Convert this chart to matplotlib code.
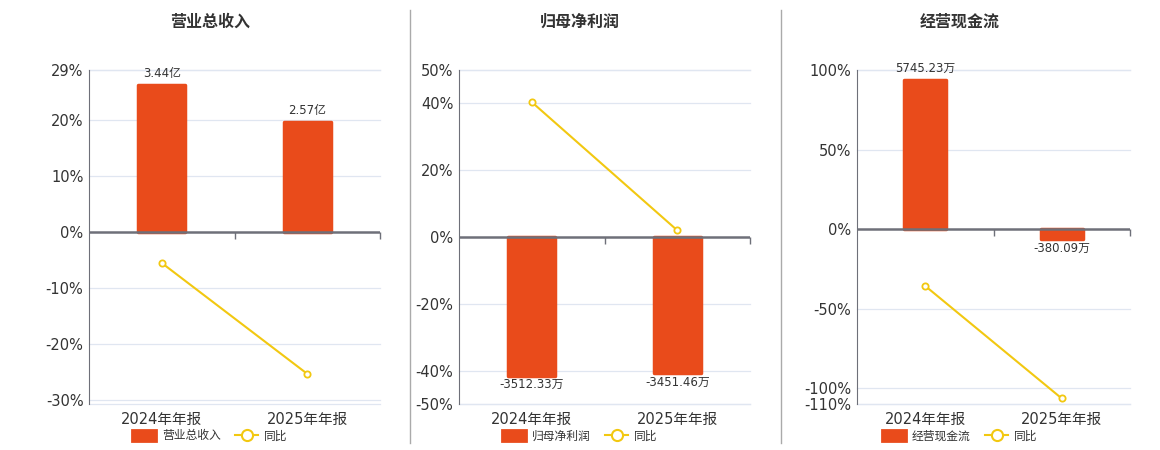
#!/usr/bin/env python3
"""Three small bar+line panels: revenue, net profit, operating cash flow with YoY %."""
import matplotlib
matplotlib.use("Agg")
import matplotlib.pyplot as plt
from matplotlib.lines import Line2D
from matplotlib.patches import Patch

plt.rcParams["font.family"] = ["DejaVu Sans", "Noto Sans CJK SC"]

categories = ["2024年年报", "2025年年报"]

revenue = [3.44, 2.57]            # 亿
revenue_labels = ["3.44亿", "2.57亿"]
revenue_yoy = [-5.55, -25.4]      # %

profit = [-3512.33, -3451.46]     # 万
profit_labels = ["-3512.33万", "-3451.46万"]
profit_yoy = [40.4, 2.0]

cash = [5745.23, -380.09]         # 万
cash_labels = ["5745.23万", "-380.09万"]
cash_yoy = [-35.8, -106.5]

BAR = "#E94B1B"
LINE = "#F2C811"
GRID = "#E0E6F1"
AXIS = "#6E7079"
TXT = "#333333"

W, H = 1160, 450
fig = plt.figure(figsize=(W / 100, H / 100), dpi=100)


def panel(x0, x1, title, tcx, vals, labels, yoy, ylim, ticks, scale, name, bw):
    rect = [x0 / W, 1 - 404 / H, (x1 - x0) / W, (404 - 70) / H]
    ax = fig.add_axes(rect)
    axb = ax.twinx()
    axl = ax.twinx()
    for a in (ax, axb, axl):
        a.set_xlim(-0.5, 1.5)
        for s in a.spines.values():
            s.set_visible(False)
    ax.set_ylim(*ylim)
    axl.set_ylim(*ylim)
    axb.set_ylim(ylim[0] * scale, ylim[1] * scale)
    axb.set_yticks([]); axl.set_yticks([])
    axb.tick_params(left=False, right=False, bottom=False, labelbottom=False)
    axl.tick_params(left=False, right=False, bottom=False, labelbottom=False)

    # grid + left axis
    for g in list(ticks) + [ylim[0], ylim[1]]:
        if g != 0:
            ax.axhline(g, color=GRID, lw=0.9, zorder=0, clip_on=False)
    ax.spines["left"].set_visible(True)
    ax.spines["left"].set_color(AXIS)
    ax.set_yticks(ticks, [f"{t}%" for t in ticks])
    ax.tick_params(axis="y", length=0, pad=4, labelsize=10.5, labelcolor=TXT)
    ax.set_xticks([0, 1], categories)
    ax.tick_params(axis="x", length=0, pad=6, labelsize=10.5, labelcolor=TXT)

    # bars (round joins give the soft corners)
    xs = range(len(vals))
    axb.bar(xs, vals, width=bw, color=BAR, edgecolor=BAR, lw=2.5,
            joinstyle="round", zorder=2)
    for x, v, lab in zip(xs, vals, labels):
        off = 4 if v >= 0 else -2
        axb.annotate(lab, (x, v), xytext=(0, off), textcoords="offset points",
                     ha="center", va="bottom" if v >= 0 else "top",
                     fontsize=8.5, color=TXT)

    # zero axis with ticks at category boundaries
    axl.axhline(0, color=AXIS, lw=1.8, zorder=3)
    axl.plot([0.5, 1.5], [0, 0], ls="", marker=3, ms=5, mew=1, color=AXIS,
             clip_on=False, zorder=3)

    # yoy line
    axl.plot(xs, yoy, color=LINE, lw=1.5, marker="o", ms=4.5, mfc="white",
             mec=LINE, mew=1.3, zorder=4, clip_on=False)

    fig.text(tcx / W, 1 - 22 / H, title, ha="center", va="center",
             fontsize=11.5, fontweight="bold", color=TXT)

    handles = [Patch(facecolor=BAR, edgecolor=BAR, joinstyle="round", lw=2),
               Line2D([], [], color=LINE, lw=1.5, marker="o", ms=8,
                      mfc="white", mec=LINE, mew=1.5)]
    ax.legend(handles, [name, "同比"], loc="center", ncol=2,
              bbox_to_anchor=(tcx / W, 1 - 436 / H),
              bbox_transform=fig.transFigure, frameon=False, fontsize=8.5,
              handlelength=2.0, handleheight=1.0, handletextpad=0.5,
              columnspacing=1.2, labelcolor=TXT)


panel(89, 380, "营业总收入", 210, revenue, revenue_labels, revenue_yoy,
      (-30.8, 29), [29, 20, 10, 0, -10, -20, -30], 3.44 / 26.3, "营业总收入", 0.32)
panel(459, 750, "归母净利润", 580, profit, profit_labels, profit_yoy,
      (-50, 50), [50, 40, 20, 0, -20, -40, -50], 3512.33 / 41.5, "归母净利润", 0.32)
panel(857, 1130, "经营现金流", 960, cash, cash_labels, cash_yoy,
      (-110, 100), [100, 50, 0, -50, -100, -110], 5745.23 / 93.7, "经营现金流", 0.31)

# panel separators
for sx in (410, 781):
    fig.add_artist(Line2D([sx / W, sx / W], [1 - 10 / H, 1 - 443 / H],
                          color="#AAAAAA", lw=1))

fig.savefig("out.png", dpi=100)
